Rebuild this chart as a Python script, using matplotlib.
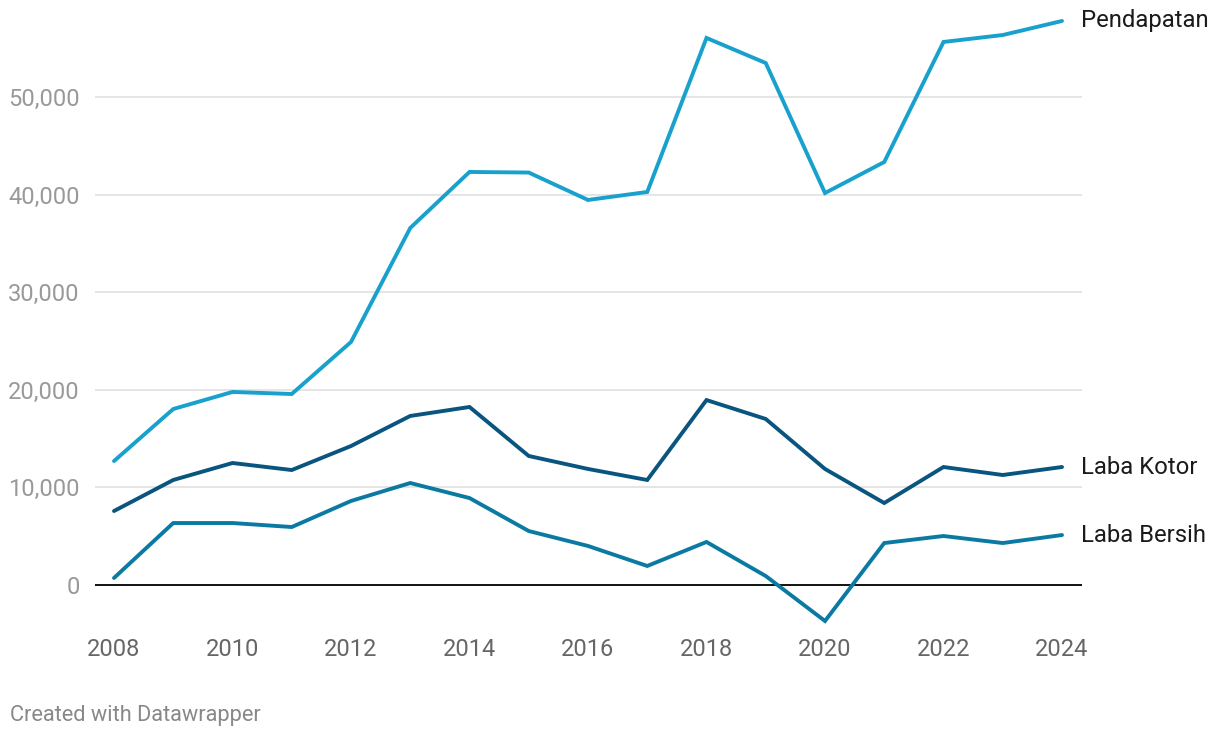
import matplotlib
matplotlib.use('Agg')
import matplotlib.pyplot as plt
from matplotlib.ticker import FuncFormatter

plt.rcParams['font.family'] = ['Roboto', 'DejaVu Sans']

# data
years = list(range(2008, 2025))
pendapatan = [12700, 18030, 19780, 19570, 24900, 36580, 42320, 42260, 39450,
              40270, 56050, 53480, 40160, 43340, 55640, 56350, 57790]
laba_kotor = [7580, 10760, 12500, 11780, 14240, 17320, 18240, 13220, 11890,
              10760, 18950, 17010, 11890, 8400, 12090, 11270, 12090]
laba_bersih = [720, 6350, 6350, 5940, 8610, 10450, 8910, 5530, 4000,
               1950, 4410, 920, -3690, 4300, 5020, 4300, 5120]
series_names = ['Pendapatan', 'Laba Kotor', 'Laba Bersih']
y_ticks = [0, 10000, 20000, 30000, 40000, 50000]
x_ticks = list(range(2008, 2025, 2))

colors = ['#18a1cd', '#09557f', '#0b7aa3']

W, H = 1220, 738
fig = plt.figure(figsize=(W / 100, H / 100), dpi=100, facecolor='white')
# axes box in pixels: left 95, right 1082, top 15, bottom 630
ax = fig.add_axes([95 / W, 1 - 630 / H, (1082 - 95) / W, (630 - 15) / H])

px_year = (1062 - 114) / 16
px_val = (585 - 97) / 50000
ax.set_xlim(2008 - 19 / px_year, 2024 + 20 / px_year)
ax.set_ylim(-(630 - 585) / px_val, (585 - 15) / px_val)

for t in y_ticks[1:]:
    ax.axhline(t, color='#e3e3e3', lw=1.3, zorder=1)
ax.axhline(0, color='#111111', lw=1.4, zorder=2)

for vals, c, name in zip([pendapatan, laba_kotor, laba_bersih], colors, series_names):
    ax.plot(years, vals, color=c, lw=2.8, solid_capstyle='round',
            solid_joinstyle='miter', zorder=3)
    ax.annotate(name, xy=(years[-1], vals[-1]), xytext=(14, 0),
                textcoords='offset points', va='center', ha='left',
                fontsize=17.2, color='#1a1a1a', annotation_clip=False)

for s in ax.spines.values():
    s.set_visible(False)
ax.set_yticks(y_ticks)
ax.yaxis.set_major_formatter(FuncFormatter(lambda v, p: f'{int(v):,}'))
ax.set_xticks(x_ticks)
ax.tick_params(axis='y', length=0, pad=11, labelsize=17, labelcolor='#999999')
ax.tick_params(axis='x', length=0, pad=6, labelsize=17, labelcolor='#666666')

fig.text(10 / W, 1 - 715 / H, 'Created with Datawrapper', fontsize=15.7,
         color='#888888', va='center', ha='left')

fig.savefig('out.png', dpi=100, facecolor='white')
